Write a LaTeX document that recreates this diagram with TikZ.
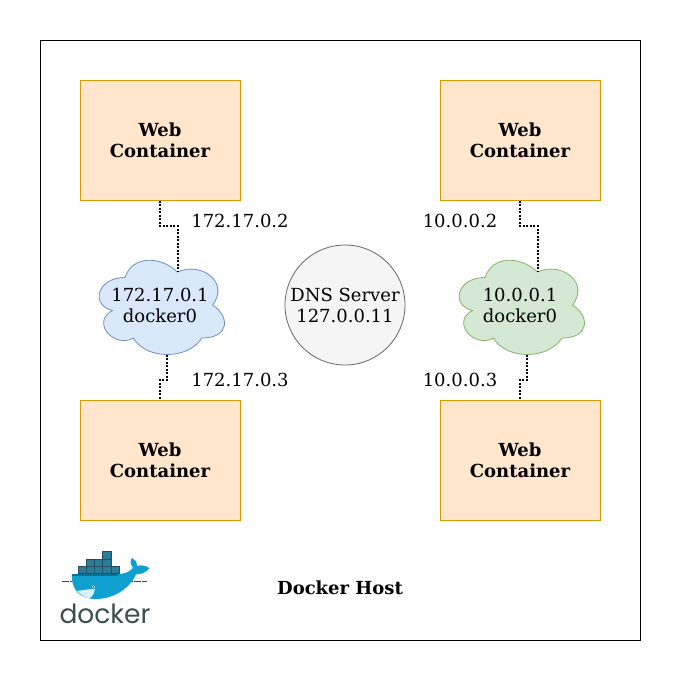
\documentclass[tikz,border=0pt]{standalone}
\usepackage{fontspec}
\setmainfont{DejaVu Serif}
\newfontfamily\logofont{Poppins}
\definecolor{boiteFond}{HTML}{FFE6CC}
\definecolor{boiteTrait}{HTML}{D79B00}
\definecolor{bleuFond}{HTML}{DAE8FC}
\definecolor{bleuTrait}{HTML}{6C8EBF}
\definecolor{vertFond}{HTML}{D5E8D4}
\definecolor{vertTrait}{HTML}{82B366}
\definecolor{dnsFond}{HTML}{F5F5F5}
\definecolor{dnsTrait}{HTML}{666666}
\definecolor{baleine}{HTML}{0FA0CF}
\definecolor{baleineFonce}{HTML}{0B6F97}
\definecolor{caisse}{HTML}{2B7C97}
\definecolor{caisseTrait}{HTML}{1F4F61}
\definecolor{logoTexte}{HTML}{394D54}
\begin{document}
\begin{tikzpicture}[x=1pt,y=-1pt,font=\fontsize{18}{21}\selectfont]
	\tikzstyle{boite}=[draw=boiteTrait,fill=boiteFond,line width=1pt,minimum width=160pt,minimum height=120pt,align=center,inner sep=0pt,font=\fontsize{18}{21}\selectfont\bfseries]
	\tikzstyle{liaison}=[line width=2pt,dash pattern=on 2pt off 1.5pt]
	\tikzstyle{nuage}=[line width=0.8pt]
	\tikzstyle{texte}=[align=center,inner sep=0pt]
	\def\NuagePath{(0.25,0.25) .. controls (0.05,0.25) and (0,0.5) .. (0.16,0.55)
		.. controls (0,0.66) and (0.18,0.9) .. (0.31,0.8)
		.. controls (0.4,1) and (0.7,1) .. (0.8,0.8)
		.. controls (1,0.8) and (1,0.6) .. (0.875,0.5)
		.. controls (1,0.3) and (0.8,0.1) .. (0.625,0.2)
		.. controls (0.5,0.05) and (0.3,0.05) .. (0.25,0.25) -- cycle}
	\useasboundingbox (0,0) rectangle (681,681);
	\draw[line width=1pt] (40,40) rectangle (640,640);
	% boites
	\node[boite] (WebA) at (160,140) {Web\\Container};
	\node[boite] (WebB) at (520,140) {Web\\Container};
	\node[boite] (WebC) at (160,460) {Web\\Container};
	\node[boite] (WebD) at (520,460) {Web\\Container};
	% nuages
	\begin{scope}[shift={(90,250)},x=140pt,y=-110pt]
		\draw[nuage,draw=bleuTrait,fill=bleuFond] \NuagePath;
		\coordinate (PontAhaut) at (0.625,0.2);
		\coordinate (PontAbas) at (0.55,0.95);
	\end{scope}
	\begin{scope}[shift={(450,250)},x=140pt,y=-110pt]
		\draw[nuage,draw=vertTrait,fill=vertFond] \NuagePath;
		\coordinate (PontBhaut) at (0.625,0.2);
		\coordinate (PontBbas) at (0.55,0.95);
	\end{scope}
	\node[texte] (PontA) at (160,305) {172.17.0.1\\docker0};
	\node[texte] (PontB) at (520,305) {10.0.0.1\\docker0};
	\node[circle,draw=dnsTrait,fill=dnsFond,line width=0.8pt,minimum size=120pt,inner sep=0pt,align=center] (Dns) at (345,305) {DNS Server\\127.0.0.11};
	% liaisons
	\draw[liaison] (WebA.south) -- ++(0,25.5) -| (PontAhaut);
	\draw[liaison] (PontAbas) -- ++(0,25) -| (WebC.north);
	\draw[liaison] (WebB.south) -- ++(0,25.5) -| (PontBhaut);
	\draw[liaison] (PontBbas) -- ++(0,25) -| (WebD.north);
	% adresses
	\node[texte] (IpA) at (240,221) {172.17.0.2};
	\node[texte] (IpC) at (240,380) {172.17.0.3};
	\node[texte] (IpB) at (460,221) {10.0.0.2};
	\node[texte] (IpD) at (460,380) {10.0.0.3};
	\node[texte,font=\fontsize{18}{21}\selectfont\bfseries] (Hote) at (340,588) {Docker Host};
	% logo
	\draw[caisseTrait,line width=0.5pt,dash pattern=on 7pt off 1pt] (62,581) -- (147,581);
	\foreach \x in {78,86.2,94.4,102.6,110.8} \draw[fill=caisse,draw=caisseTrait,line width=0.4pt] (\x,566.5) rectangle ++(8.2,7);
	\foreach \x in {86.2,94.4,102.6} \draw[fill=caisse,draw=caisseTrait,line width=0.4pt] (\x,559) rectangle ++(8.2,7.5);
	\draw[fill=caisse,draw=caisseTrait,line width=0.4pt] (102.6,551) rectangle ++(8.2,8);
	\fill[baleine] (72,574) -- (118,574) .. controls (126,574) and (130,571) .. (133,568)
		.. controls (130,564) and (130,560) .. (132,558) .. controls (135,559) and (137,562) .. (137,566)
		.. controls (140,565) and (145,565) .. (149.5,568) .. controls (146,573) and (141,574) .. (136,574.5)
		.. controls (130,588) and (114,599) .. (96,599) .. controls (80,599) and (71,590) .. (72,574) -- cycle;
	\fill[white!85!baleine] (77,591) .. controls (83,590) and (90,589) .. (95,589) .. controls (94,594) and (92,597) .. (89,598.5) .. controls (84,597) and (80,594) .. (77,591) -- cycle;
	\fill[baleineFonce] (72,574) -- (118,574) -- (118,575.5) -- (72,575.5) -- cycle;
	\fill[white] (93.5,587) circle (1.6pt);
	\fill[caisseTrait] (93.5,587) circle (0.8pt);
	\node[inner sep=0pt,text=logoTexte,draw=none,font=\logofont\fontsize{26.5}{26}\selectfont] (Logo) at (105,613.5) {docker};
\end{tikzpicture}
\end{document}
